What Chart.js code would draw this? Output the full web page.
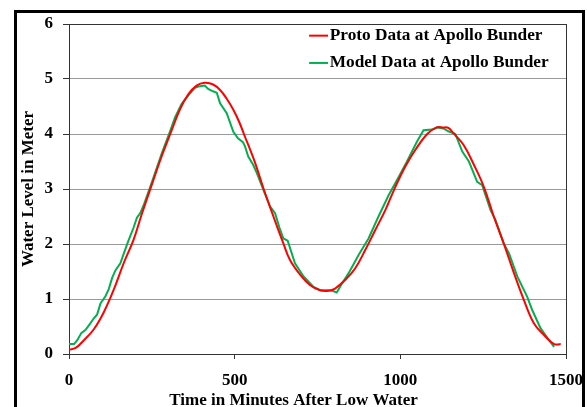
<!DOCTYPE html>
<html><head><meta charset="utf-8">
<script src="https://cdn.jsdelivr.net/npm/chart.js@4"></script>
<style>
html,body{margin:0;padding:0;background:#fff;overflow:hidden;width:587px;height:407px;}
#frame{position:absolute;left:14px;top:10px;width:565px;height:420px;border:3px solid #000;}
#wrap{position:absolute;left:0;top:0;width:587px;height:407px;}
</style></head><body>
<div id="frame"></div>
<div id="wrap"><canvas id="c" width="587" height="407"></canvas></div>
<script>
const xTickValues = [0, 500, 1000, 1500];
const yTickValues = [0, 1, 2, 3, 4, 5, 6];
const seriesNames = ['Proto Data at Apollo Bunder', 'Model Data at Apollo Bunder'];
const xTitle = 'Time in Minutes After Low Water';
const yTitle = 'Water Level in Meter';

const protoTime = [0,20,45,75,105,135,165,195,220,250,280,310,335,360,385,410,435,456,476,496,515,531,547,562,587,617,647,667,698,728,758,783,803,834,864,894,924,955,985,1015,1045,1081,1110,1130,1145,1161,1191,1222,1252,1282,1312,1343,1373,1403,1433,1464,1484];
const protoLevel = [0.08,0.11,0.25,0.45,0.76,1.17,1.65,2.08,2.55,3.08,3.6,4.07,4.45,4.72,4.88,4.93,4.9,4.8,4.64,4.44,4.2,3.95,3.71,3.47,3.01,2.5,2.01,1.71,1.44,1.25,1.16,1.15,1.19,1.35,1.56,1.89,2.25,2.62,3.04,3.41,3.71,4.0,4.12,4.12,4.11,4.01,3.8,3.44,3.04,2.5,2.01,1.47,0.98,0.56,0.35,0.18,0.18];

const modelTime = [0,15,25,37,50,60,75,85,95,110,120,130,140,155,165,178,195,205,215,225,250,280,305,320,340,365,380,395,410,420,430,446,456,476,496,510,525,531,541,555,567,587,607,622,635,647,660,682,708,738,758,783,795,808,824,844,874,904,934,965,995,1020,1050,1070,1096,1111,1130,1145,1166,1187,1207,1232,1247,1272,1287,1312,1328,1353,1383,1398,1423,1449,1464];
const modelLevel = [0.18,0.18,0.25,0.38,0.44,0.52,0.65,0.72,0.92,1.05,1.18,1.38,1.52,1.65,1.82,2.04,2.3,2.48,2.56,2.7,3.12,3.65,4.05,4.3,4.55,4.74,4.84,4.87,4.88,4.82,4.79,4.75,4.56,4.38,4.04,3.92,3.85,3.78,3.59,3.45,3.29,2.98,2.68,2.56,2.3,2.1,2.06,1.65,1.41,1.22,1.16,1.16,1.15,1.12,1.28,1.47,1.8,2.1,2.5,2.89,3.22,3.5,3.86,4.07,4.08,4.12,4.1,4.05,4.0,3.68,3.5,3.13,3.07,2.62,2.44,2.01,1.83,1.41,1.04,0.8,0.47,0.25,0.13];

const FONT = "'Liberation Serif', 'Times New Roman', serif";
const DARK = '#333333';
const GRID = '#999999';

const legendPlacer = {
  id: 'legendPlacer',
  afterLayout(chart) {
    const lg = chart.legend, a = chart.chartArea;
    lg.left = a.left + 0.477 * (a.right - a.left);
    lg.top = a.top - 7;
  }
};

new Chart(document.getElementById('c'), {
  type: 'line',
  data: {
    datasets: [
      { label: seriesNames[0], data: protoTime.map((t, i) => ({x: t, y: protoLevel[i]})),
        borderColor: '#ff0000', backgroundColor: '#ff0000', borderWidth: 2, pointRadius: 0, tension: 0.4, fill: false },
      { label: seriesNames[1], data: modelTime.map((t, i) => ({x: t, y: modelLevel[i]})),
        borderColor: '#00b050', backgroundColor: '#00b050', borderWidth: 2, pointRadius: 0, tension: 0, fill: false }
    ]
  },
  options: {
    responsive: false,
    animation: false,
    devicePixelRatio: 1,
    layout: { padding: { top: 24, left: 0, right: 0, bottom: 0 } },
    plugins: {
      legend: {
        position: 'chartArea', align: 'start',
        labels: { usePointStyle: true, pointStyle: 'line', boxWidth: 5, boxHeight: 13.4, padding: 10,
          color: '#000', font: { family: FONT, size: 17.3, weight: 'bold' } }
      },
      title: { display: true, text: xTitle, position: 'bottom', color: '#000',
        font: { family: FONT, size: 17, weight: 'bold', lineHeight: 0.8 }, padding: 0 },
      tooltip: { enabled: false }
    },
    scales: {
      x: {
        type: 'linear', min: 0, max: 1500,
        afterBuildTicks: s => { s.ticks = xTickValues.map(v => ({value: v})); },
        afterFit: s => { s.height = 39.4; s.paddingRight = 21; },
        ticks: { color: '#000', padding: 11, maxRotation: 0, callback: v => String(v),
          font: { family: FONT, size: 17, weight: 'bold' } },
        grid: { color: c => (c.tick && c.tick.value === 1500) ? DARK : 'rgba(0,0,0,0)', tickColor: DARK, tickLength: 5, lineWidth: 1 },
        border: { display: true, color: DARK, width: 1 }
      },
      y: {
        min: 0, max: 6,
        afterBuildTicks: s => { s.ticks = yTickValues.map(v => ({value: v})); },
        afterFit: s => { s.width = 69; },
        ticks: { color: '#000', padding: 10, callback: v => String(v),
          font: { family: FONT, size: 17, weight: 'bold' } },
        grid: { color: c => (c.tick && c.tick.value === 6) ? DARK : GRID, tickColor: DARK, tickLength: 6, lineWidth: 1 },
        border: { display: true, color: DARK, width: 1 },
        title: { display: true, text: yTitle, color: '#000', padding: { top: 18, bottom: 0 },
          font: { family: FONT, size: 17, weight: 'bold' } }
      }
    }
  },
  plugins: [legendPlacer]
});
</script>
</body></html>
